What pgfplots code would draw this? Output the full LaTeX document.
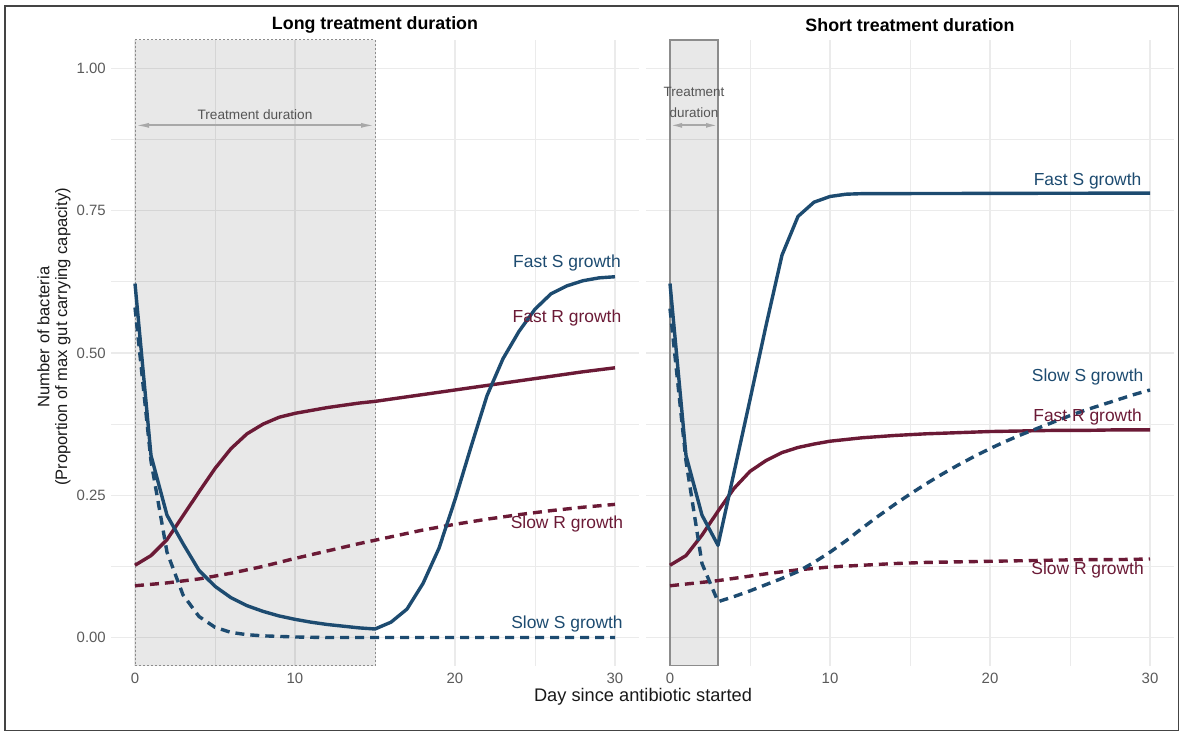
\documentclass[border=0pt]{standalone}
\usepackage{pgfplots}
\pgfplotsset{compat=1.18}
\usepackage{fontspec}
\setmainfont{Liberation Sans}
\usetikzlibrary{arrows.meta}
\definecolor{sblue}{HTML}{1D4B70}
\definecolor{rmaroon}{HTML}{6B1A36}
\definecolor{gridc}{HTML}{EBEBEB}
\definecolor{tickc}{HTML}{5A5A5A}
\definecolor{arrowc}{HTML}{A8A8A8}
\definecolor{annc}{HTML}{555555}
\definecolor{rectc}{HTML}{8C8C8C}
\definecolor{framec}{HTML}{444444}

\pgfplotstableread{
x y
0 0.622
1 0.32
2 0.215
3 0.165
4 0.118
5 0.09
6 0.07
7 0.056
8 0.046
9 0.038
10 0.032
11 0.027
12 0.023
13 0.020
14 0.017
15 0.015
16 0.027
17 0.050
18 0.095
19 0.157
20 0.242
21 0.335
22 0.425
23 0.490
24 0.538
25 0.577
26 0.604
27 0.618
28 0.627
29 0.632
30 0.634
}\LFastS
\pgfplotstableread{
x y
0 0.127
1 0.144
2 0.172
3 0.214
4 0.256
5 0.297
6 0.332
7 0.358
8 0.375
9 0.387
10 0.394
11 0.399
12 0.404
13 0.408
14 0.412
15 0.415
16 0.419
18 0.427
20 0.435
22 0.443
24 0.451
26 0.459
28 0.467
30 0.474
}\LFastR
\pgfplotstableread{
x y
0 0.580
1 0.310
2 0.150
3 0.075
4 0.037
5 0.018
6 0.009
7 0.005
8 0.003
9 0.002
10 0.001
12 0.0
30 0.0
}\LSlowS
\pgfplotstableread{
x y
0 0.091
2 0.096
4 0.103
6 0.113
8 0.125
10 0.139
12 0.152
14 0.165
15 0.171
16 0.177
18 0.189
20 0.199
22 0.208
24 0.216
26 0.223
28 0.229
30 0.234
}\LSlowR
\pgfplotstableread{
x y
0 0.622
1 0.32
2 0.215
3 0.162
4 0.290
5 0.418
6 0.548
7 0.672
8 0.740
9 0.765
10 0.775
11 0.779
12 0.780
30 0.781
}\RFastS
\pgfplotstableread{
x y
0 0.127
1 0.144
2 0.180
3 0.222
4 0.262
5 0.292
6 0.311
7 0.325
8 0.334
9 0.340
10 0.345
11 0.348
12 0.351
14 0.355
16 0.358
18 0.360
20 0.362
22 0.363
24 0.364
26 0.364
28 0.365
30 0.365
}\RFastR
\pgfplotstableread{
x y
0 0.578
1 0.310
2 0.130
3 0.063
4 0.072
5 0.082
6 0.093
7 0.104
8 0.116
9 0.132
10 0.150
11 0.170
12 0.192
13 0.213
14 0.233
15 0.252
16 0.270
17 0.287
18 0.303
19 0.318
20 0.332
21 0.345
22 0.357
23 0.368
24 0.379
25 0.390
26 0.400
27 0.409
28 0.418
29 0.427
30 0.435
}\RSlowS
\pgfplotstableread{
x y
0 0.091
1 0.094
2 0.097
3 0.100
4 0.104
6 0.112
8 0.119
10 0.124
12 0.127
14 0.130
16 0.132
18 0.133
20 0.134
22 0.135
24 0.136
26 0.137
28 0.137
30 0.138
}\RSlowR

\pgfplotsset{
  panel/.style={
    anchor=south west, scale only axis, width=528bp, height=626bp,
    xmin=-1.5, xmax=31.5, ymin=-0.05, ymax=1.05,
    xtick={0,10,20,30}, xticklabels={0,10,20,30},
    minor xtick={5,15,25},
    ytick={0,0.25,0.5,0.75,1},
    minor ytick={0.125,0.375,0.625,0.875},
    grid=both,
    major grid style={draw=gridc, line width=1.5bp},
    minor grid style={draw=gridc, line width=0.8bp},
    axis line style={draw=none},
    major tick length=0pt, minor tick length=0pt,
    tick style={draw=none},
    xticklabel style={font=\fontsize{15}{15}\selectfont, text=tickc, anchor=north, inner sep=0pt, yshift=-7bp},
    yticklabel style={font=\fontsize{15}{15}\selectfont, text=tickc, anchor=east, inner sep=0pt, xshift=-5bp},
  },
}
\tikzset{
  sline/.style={sblue, line width=3.4bp, line join=round},
  rline/.style={rmaroon, line width=3.4bp, line join=round},
  dashedc/.style={dash pattern=on 9bp off 6bp},
  lab/.style={font=\fontsize{17.5}{18}\selectfont},
}

\begin{document}
\begin{tikzpicture}
\useasboundingbox (0bp,0bp) rectangle (1180bp,732bp);
\draw[line width=1.8bp, color=framec] (5bp,1.5bp) rectangle (1178.5bp,726bp);

% Left panel
\begin{axis}[panel, at={(111bp,66bp)}, yticklabels={0.00,0.25,0.50,0.75,1.00}]
\addplot[draw=rectc, line width=1bp, dash pattern=on 2bp off 2bp, fill=black, fill opacity=0.09, forget plot] coordinates {(0,-0.05) (15,-0.05) (15,1.05) (0,1.05) (0,-0.05)};
\addplot[arrowc, line width=1.8bp, {Latex[length=14bp,width=5bp]}-{Latex[length=14bp,width=5bp]}] coordinates {(0,0.9) (15,0.9)};
\node[font=\fontsize{13.7}{16}\selectfont, text=annc] at (axis cs:7.5,0.919) {Treatment duration};
\addplot[rline] table {\LFastR};
\addplot[rline, dashedc] table {\LSlowR};
\addplot[sline] table {\LFastS};
\addplot[sline, dashedc] table {\LSlowS};
\node[lab, text=sblue] at (axis cs:27,0.659) {Fast S growth};
\node[lab, text=rmaroon] at (axis cs:27,0.561) {Fast R growth};
\node[lab, text=rmaroon] at (axis cs:27,0.200) {Slow R growth};
\node[lab, text=sblue] at (axis cs:27,0.023) {Slow S growth};
\end{axis}

% Right panel
\begin{axis}[panel, at={(646bp,66bp)}, yticklabels={}]
\addplot[draw=rectc, line width=1.2bp, fill=black, fill opacity=0.09, forget plot] coordinates {(0,-0.05) (3,-0.05) (3,1.05) (0,1.05) (0,-0.05)};
\addplot[arrowc, line width=1.8bp, {Latex[length=12bp,width=5bp]}-{Latex[length=12bp,width=5bp]}] coordinates {(0,0.9) (3,0.9)};
\node[font=\fontsize{13.5}{20.6}\selectfont, text=annc, align=center] at (axis cs:1.5,0.94) {Treatment\\duration};
\addplot[rline] table {\RFastR};
\addplot[rline, dashedc] table {\RSlowR};
\addplot[sline] table {\RFastS};
\addplot[sline, dashedc] table {\RSlowS};
\node[lab, text=sblue] at (axis cs:26.1,0.803) {Fast S growth};
\node[lab, text=sblue] at (axis cs:26.1,0.457) {Slow S growth};
\node[lab, text=rmaroon] at (axis cs:26.1,0.388) {Fast R growth};
\node[lab, text=rmaroon] at (axis cs:26.1,0.118) {Slow R growth};
\end{axis}

% Titles
\node[font=\bfseries\fontsize{17.9}{18}\selectfont] at (375bp,707bp) {Long treatment duration};
\node[font=\bfseries\fontsize{17.9}{18}\selectfont] at (910bp,707bp) {Short treatment duration};
\node[font=\fontsize{18.3}{18}\selectfont, text=black!90] at (643bp,35bp) {Day since antibiotic started};
\node[font=\fontsize{16.6}{18}\selectfont, text=black!90, rotate=90, align=center] at (54bp,395bp) {Number of bacteria\\(Proportion of max gut carrying capacity)};
\end{tikzpicture}
\end{document}
